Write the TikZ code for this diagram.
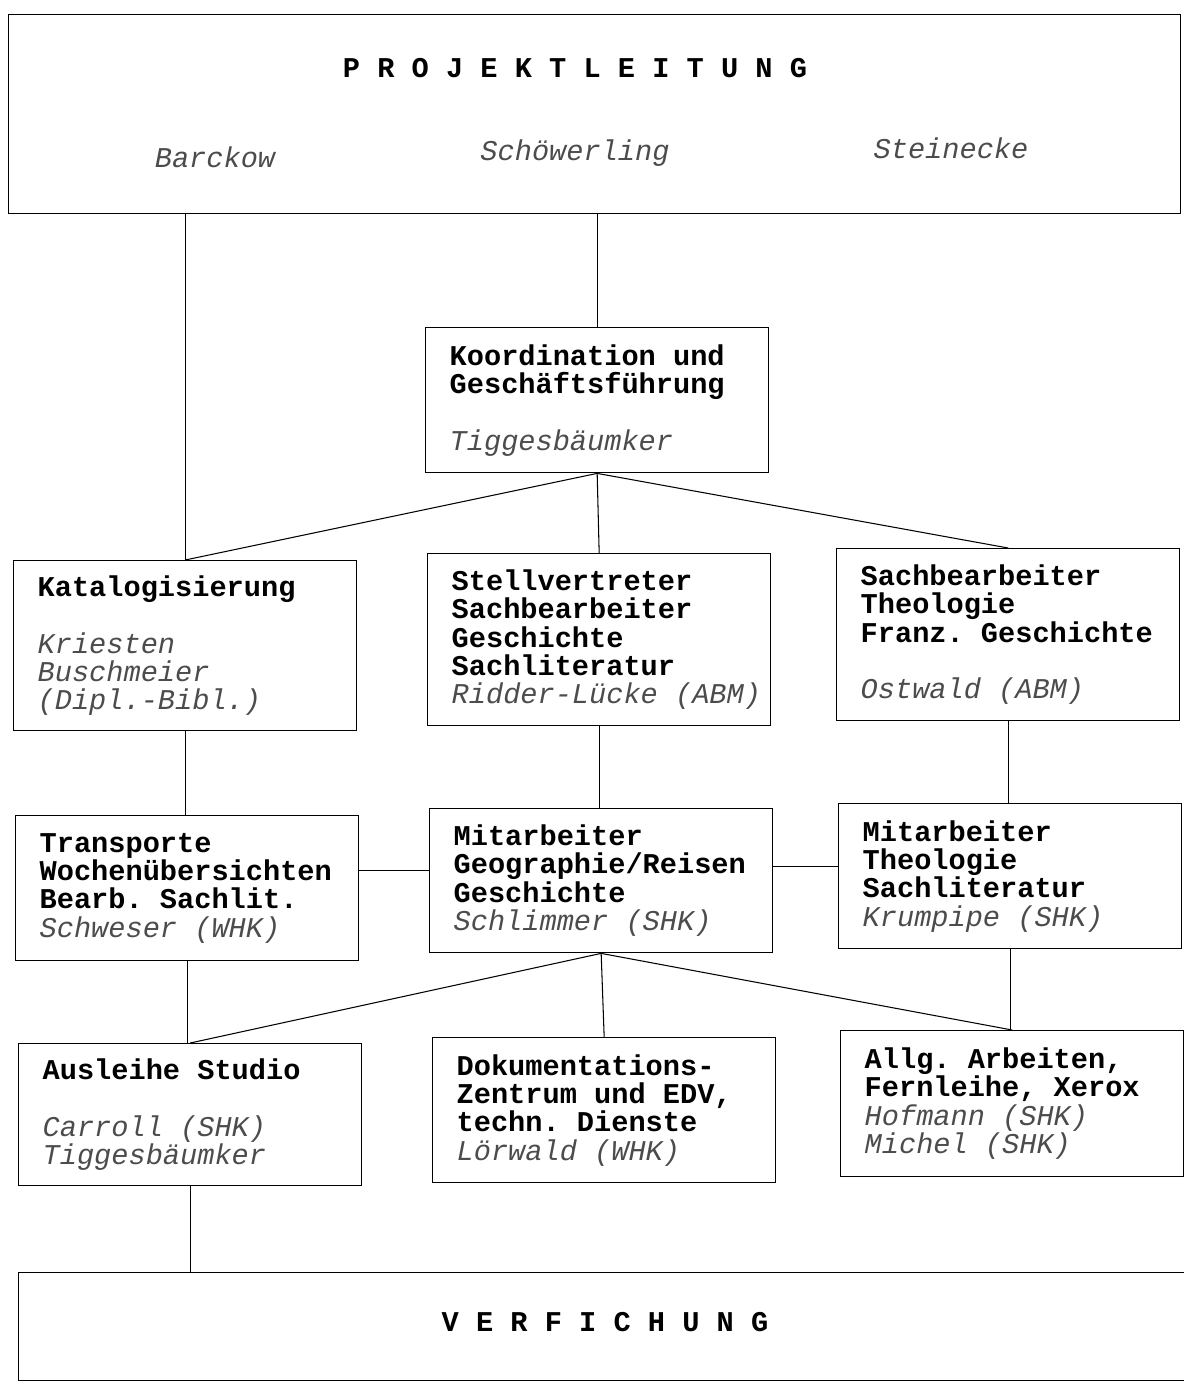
\documentclass[tikz,border=0pt]{standalone}
\usepackage{fontspec}
\setmainfont{Liberation Mono}
\newcommand{\pers}[1]{\mbox{\mdseries\itshape\color{black!70}#1}}

\begin{document}
\begin{tikzpicture}[x=0.02cm,y=-0.02cm,
    typo/.style={font={\fontsize{16.3}{16.1}\selectfont\lineskiplimit=-10pt}},
    unit/.style={draw,thick,anchor=north west,align=left,
      font={\fontsize{16.3}{16.1}\selectfont\bfseries\lineskiplimit=-10pt},
      execute at begin node={\spaceskip=0.6em\xspaceskip=0.6em\relax},
      text width=5.9cm,inner xsep=0.48cm,inner ysep=0pt,
      minimum width=6.86cm,minimum height=2.9cm},
    frame/.style={draw,thick,anchor=north west,inner sep=0pt},
    conn/.style={semithick}]
    \useasboundingbox (0,0) rectangle (1184,1384);
    % top and bottom frames
    \node[frame,minimum width=23.44cm,minimum height=3.98cm] (leit) at (8,14) {};
    \node[typo,font={\fontsize{16.3}{16.1}\selectfont\bfseries}] (leittitel) at (575,68) {P R O J E K T L E I T U N G};
    \node[typo] (barckow) at (215,157) {\pers{Barckow}};
    \node[typo] (schoewerling) at (575,153) {\pers{Schöwerling}};
    \node[typo] (steinecke) at (951,148) {\pers{Steinecke}};
    \node[frame,minimum width=23.64cm,minimum height=2.16cm] (verf) at (18,1272) {};
    \node[typo,font={\fontsize{16.3}{16.1}\selectfont\bfseries}] (verftitel) at (605,1322) {V E R F I C H U N G};
    % units
    \node[unit] (koord) at (425,327) {Koordination und\\Geschäftsführung\\[\baselineskip]\pers{Tiggesbäumker}};
    \node[unit,minimum height=3.4cm] (kat) at (13,560) {Katalogisierung\\[\baselineskip]\pers{Kriesten}\\\pers{Buschmeier}\\\pers{(Dipl.-Bibl.)}};
    \node[unit,minimum height=3.44cm] (stell) at (427,553) {Stellvertreter\\Sachbearbeiter\\Geschichte\\Sachliteratur\\\pers{Ridder-Lücke (ABM)}};
    \node[unit,minimum height=3.44cm] (sach) at (836,548) {Sachbearbeiter\\Theologie\\Franz. Geschichte\\[\baselineskip]\pers{Ostwald (ABM)}};
    \node[unit] (trans) at (15,815) {Transporte\\Wochenübersichten\\Bearb. Sachlit.\\\pers{Schweser (WHK)}};
    \node[unit,minimum height=2.88cm] (mitg) at (429,808) {Mitarbeiter\\Geographie/Reisen\\Geschichte\\\pers{Schlimmer (SHK)}};
    \node[unit] (mitt) at (838,803) {Mitarbeiter\\Theologie\\Sachliteratur\\\pers{Krumpipe (SHK)}};
    \node[unit,minimum height=2.84cm] (ausl) at (18,1043) {Ausleihe Studio\\[\baselineskip]\pers{Carroll (SHK)}\\\pers{Tiggesbäumker}};
    \node[unit] (dok) at (432,1037) {Dokumentations-\\Zentrum und EDV,\\techn. Dienste\\\pers{Lörwald (WHK)}};
    \node[unit,minimum height=2.92cm] (allg) at (840,1030) {Allg. Arbeiten,\\Fernleihe, Xerox\\\pers{Hofmann (SHK)}\\\pers{Michel (SHK)}};
    % connectors
    \draw[conn] (leit.south -| kat.north) -- (kat.north);
    \draw[conn] (leit.south -| koord.north) -- (koord.north);
    \foreach \b in {kat,stell,sach}{
      \draw[conn] (koord.south) -- (\b.north);
    }
    \foreach \a/\b in {kat/trans,stell/mitg,sach/mitt,trans/ausl,mitt/allg,ausl/verf}{
      \draw[conn] (\a.south) -- (\a.south |- \b.north);
    }
    \foreach \b in {ausl,dok,allg}{
      \draw[conn] (mitg.south) -- (\b.north);
    }
    \draw[conn] ([yshift=0.2cm]mitg.west) -- ([yshift=0.2cm]mitg.west -| trans.east);
    \draw[conn] ([yshift=0.2cm]mitt.west) -- ([yshift=0.2cm]mitt.west -| mitg.east);
\end{tikzpicture}
\end{document}
